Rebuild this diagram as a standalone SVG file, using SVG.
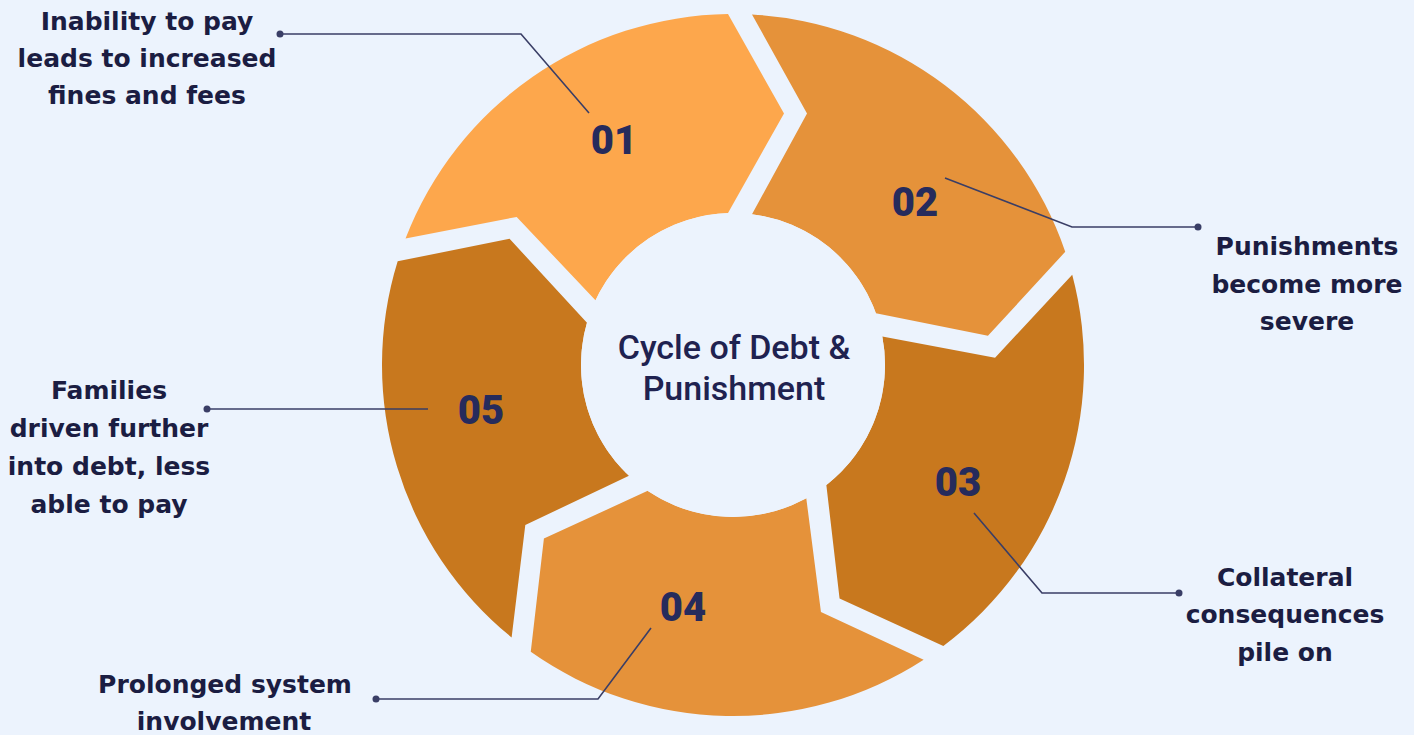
<svg xmlns="http://www.w3.org/2000/svg" xmlns:xlink="http://www.w3.org/1999/xlink" width="1414" height="735" viewBox="0 0 1414 735">
<style>
.lbl{font-family:"DejaVu Sans","Liberation Sans",sans-serif;font-weight:bold;font-size:25px;fill:#1B1D42;text-anchor:middle}
.num{font-family:Roboto,"Liberation Sans",sans-serif;font-weight:900;font-size:40px;fill:#262B5C;text-anchor:middle}
.ctr{font-family:Roboto,"Liberation Sans",sans-serif;font-weight:500;font-size:34px;fill:#1F2250;text-anchor:middle}
.con{fill:none;stroke:#3A3E66;stroke-width:1.6}
.dot{fill:#3A3E66}
.c1{fill:#FDA74C}.c2{fill:#E5923A}.c3{fill:#C8781E}
</style>
<defs>
<path id="seg" d="M 405.52 238.62 A 351 351 0 0 1 728 14.04 L 784 113.5 L 728 213.08 A 152 152 0 0 0 595.45 300.33 L 516.68 216.9 Z"/>
</defs>
<rect width="1414" height="735" fill="#ECF3FD"/>
<g id="node-01"><use xlink:href="#seg" class="c1"/><text class="num" x="614" y="154">01</text></g>
<g id="node-02"><use xlink:href="#seg" class="c2" transform="rotate(72 733 365)"/><text class="num" x="915" y="216">02</text></g>
<g id="node-03"><use xlink:href="#seg" class="c3" transform="rotate(144 733 365)"/><text class="num" x="958" y="496">03</text></g>
<g id="node-04"><use xlink:href="#seg" class="c2" transform="rotate(216 733 365)"/><text class="num" x="683" y="621">04</text></g>
<g id="node-05"><use xlink:href="#seg" class="c3" transform="rotate(288 733 365)"/><text class="num" x="481" y="424">05</text></g>
<g id="center"><circle cx="733" cy="365" r="152" fill="#ECF3FD"/><text class="ctr" x="734" y="359">Cycle of Debt &amp;</text><text class="ctr" x="734" y="400">Punishment</text></g>
<g id="connectors">
<polyline class="con" points="280,34 521,34 589,113"/><circle class="dot" cx="280" cy="34" r="3.5"/>
<polyline class="con" points="945,178 1072,227 1198,227"/><circle class="dot" cx="1198" cy="227" r="3.5"/>
<polyline class="con" points="974,513 1042,593 1179,593"/><circle class="dot" cx="1179" cy="593" r="3.5"/>
<polyline class="con" points="651,628 598,699 376,699"/><circle class="dot" cx="376" cy="699" r="3.5"/>
<polyline class="con" points="207,409 428,409"/><circle class="dot" cx="207" cy="409" r="3.5"/>
</g>
<g id="label-01"><text class="lbl" x="147" y="30">Inability to pay</text><text class="lbl" x="147" y="67">leads to increased</text><text class="lbl" x="147" y="104">fines and fees</text></g>
<g id="label-02"><text class="lbl" x="1307" y="255">Punishments</text><text class="lbl" x="1307" y="293">become more</text><text class="lbl" x="1307" y="330">severe</text></g>
<g id="label-03"><text class="lbl" x="1285" y="586">Collateral</text><text class="lbl" x="1285" y="623">consequences</text><text class="lbl" x="1285" y="661">pile on</text></g>
<g id="label-04"><text class="lbl" x="225" y="693">Prolonged system</text><text class="lbl" x="224" y="730">involvement</text></g>
<g id="label-05"><text class="lbl" x="109" y="399">Families</text><text class="lbl" x="109" y="437">driven further</text><text class="lbl" x="109" y="475">into debt, less</text><text class="lbl" x="109" y="513">able to pay</text></g>
</svg>
